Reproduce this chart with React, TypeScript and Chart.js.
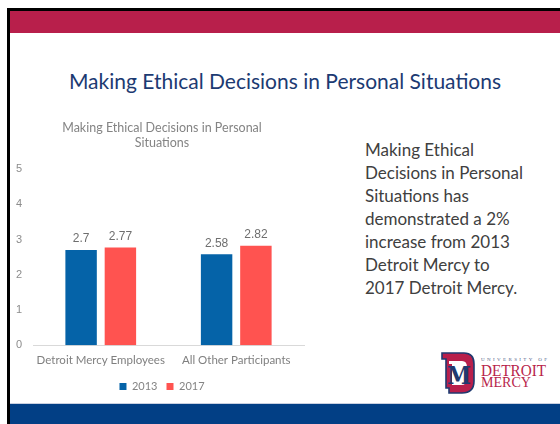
import React, { useEffect, useRef } from "react";
import { Chart, registerables } from "chart.js";

Chart.register(...registerables);

const categories = ["Detroit Mercy Employees", "All Other Participants"];
const seriesLabels = ["2013", "2017"];
const values2013 = [2.7, 2.58];
const values2017 = [2.77, 2.82];
const seriesColors = ["#0563a8", "#ff5350"];
const yMin = 0;
const yMax = 5;
const yStep = 1;
const chartTitle = ["Making Ethical Decisions in Personal", "Situations"];
const slideTitle = "Making Ethical Decisions in Personal Situations";
const sideLines = [
  "Making Ethical",
  "Decisions in Personal",
  "Situations has",
  "demonstrated a 2%",
  "increase from 2013",
  "Detroit Mercy to",
  "2017 Detroit Mercy.",
];

const dataLabelPlugin = {
  id: "dataLabels",
  afterDatasetsDraw(chart: any) {
    const ctx = chart.ctx;
    ctx.save();
    ctx.font = "12px 'Liberation Sans', Arial, sans-serif";
    ctx.fillStyle = "#6e6e6e";
    ctx.textAlign = "center";
    ctx.textBaseline = "bottom";
    chart.data.datasets.forEach((ds: any, i: number) => {
      const meta = chart.getDatasetMeta(i);
      meta.data.forEach((bar: any, j: number) => {
        ctx.fillText(String(ds.data[j]), bar.x, bar.y - 5);
      });
    });
    ctx.restore();
  },
};

function BarChart() {
  const ref = useRef<HTMLCanvasElement | null>(null);
  useEffect(() => {
    if (!ref.current) return;
    const chart = new Chart(ref.current, {
      type: "bar",
      data: {
        labels: categories,
        datasets: [
          {
            label: seriesLabels[0],
            data: values2013,
            backgroundColor: seriesColors[0],
            borderWidth: 0,
            barPercentage: 0.8,
            categoryPercentage: 0.58,
          },
          {
            label: seriesLabels[1],
            data: values2017,
            backgroundColor: seriesColors[1],
            borderWidth: 0,
            barPercentage: 0.8,
            categoryPercentage: 0.58,
          },
        ],
      },
      options: {
        animation: false,
        responsive: false,
        layout: { padding: { left: 6, right: 4, top: 4, bottom: 0 } },
        plugins: {
          title: {
            display: true,
            text: chartTitle,
            color: "#848484",
            font: { family: "Lato", size: 12.5, weight: "normal", lineHeight: 1.2 },
            padding: { top: 4, bottom: 19 },
          },
          legend: {
            position: "bottom",
            labels: {
              boxWidth: 7,
              boxHeight: 7,
              color: "#848484",
              font: { family: "Lato", size: 11 },
              padding: 9,
            },
          },
          tooltip: { enabled: false },
        },
        scales: {
          x: {
            grid: { display: false },
            border: { display: true, color: "#d9d9d9", width: 1 },
            ticks: {
              color: "#7f7f7f",
              font: { family: "Lato", size: 11.5 },
              padding: 0,
              maxRotation: 0,
              minRotation: 0,
              autoSkip: false,
            },
            afterFit(scale: any) {
              scale.paddingLeft = 0;
              scale.paddingRight = 8;
              scale.height = scale.height + 5;
            },
          },
          y: {
            min: yMin,
            max: yMax,
            ticks: {
              stepSize: yStep,
              color: "#8c8c8c",
              font: { family: "'Liberation Sans', Arial", size: 11 },
              padding: 11,
            },
            grid: { display: false, drawTicks: false },
            border: { display: false },
            afterFit(scale: any) {
              scale.width = 17;
            },
          },
        },
      },
      plugins: [dataLabelPlugin],
    } as any);
    return () => chart.destroy();
  }, []);
  return <canvas ref={ref} width={302} height={290} style={{ display: "block" }} />;
}

function Logo() {
  return (
    <svg width={112} height={46} viewBox="0 0 112 46" style={{ position: "absolute", left: 440, top: 350 }}>
      <path
        d="M2,3 H24 Q34,3 34,14 V31 Q34,43 22,43 H9 V38 H6 V9 H2 Z"
        fill="#b81f4b"
        stroke="#1f3a70"
        strokeWidth={1.6}
      />
      <path d="M9,11 H22 Q27,11 27,17 V29 Q27,35 21,35 H12 V14 H9 Z" fill="#ffffff" />
      <text
        x={7}
        y={34}
        fontFamily="'DejaVu Serif', serif"
        fontWeight="bold"
        fontSize={24}
        fill="#1f3a70"
        textLength={24}
        lengthAdjust="spacingAndGlyphs"
      >
        M
      </text>
      <text x={41} y={11} fontFamily="'Liberation Serif', serif" fontSize={5} fill="#52618a" textLength={66} lengthAdjust="spacing">
        UNIVERSITY OF
      </text>
      <text
        x={41}
        y={26}
        fontFamily="'Liberation Serif', serif"
        fontSize={16}
        fill="#b81f4b"
        textLength={65}
        lengthAdjust="spacingAndGlyphs"
      >
        DETROIT
      </text>
      <text
        x={41}
        y={37}
        fontFamily="'Liberation Serif', serif"
        fontSize={14}
        fill="#b81f4b"
        textLength={50}
        lengthAdjust="spacingAndGlyphs"
      >
        MERCY
      </text>
    </svg>
  );
}

export default function App() {
  return (
    <div
      style={{
        position: "fixed",
        left: 0,
        top: 0,
        width: 560,
        height: 424,
        overflow: "hidden",
        background: "#ffffff",
      }}
    >
      <div style={{ position: "absolute", left: 7, top: 8, width: 553, height: 3, background: "#000" }} />
      <div style={{ position: "absolute", left: 7, top: 8, width: 3, height: 416, background: "#000" }} />
      <div style={{ position: "absolute", left: 10, top: 11, width: 550, height: 22, background: "#b81f4b" }} />
      <div
        style={{
          position: "absolute",
          left: 10,
          top: 69,
          width: 550,
          textAlign: "center",
          fontFamily: "Lato, 'Open Sans', sans-serif",
          fontSize: 21,
          lineHeight: "24px",
          color: "#1c3a72",
          whiteSpace: "nowrap",
        }}
      >
        {slideTitle}
      </div>
      <div style={{ position: "absolute", left: 10, top: 112 }}>
        <BarChart />
      </div>
      <div
        style={{
          position: "absolute",
          left: 365,
          top: 138,
          width: 195,
          fontFamily: "Lato, 'Open Sans', sans-serif",
          fontSize: 17,
          lineHeight: "23px",
          color: "#404040",
          whiteSpace: "nowrap",
        }}
      >
        {sideLines.map((l, i) => (
          <div key={i}>{l}</div>
        ))}
      </div>
      <Logo />
      <div style={{ position: "absolute", left: 10, top: 403, width: 550, height: 1, background: "#c9d0e0" }} />
      <div style={{ position: "absolute", left: 10, top: 404, width: 550, height: 20, background: "#023f85" }} />
    </div>
  );
}
